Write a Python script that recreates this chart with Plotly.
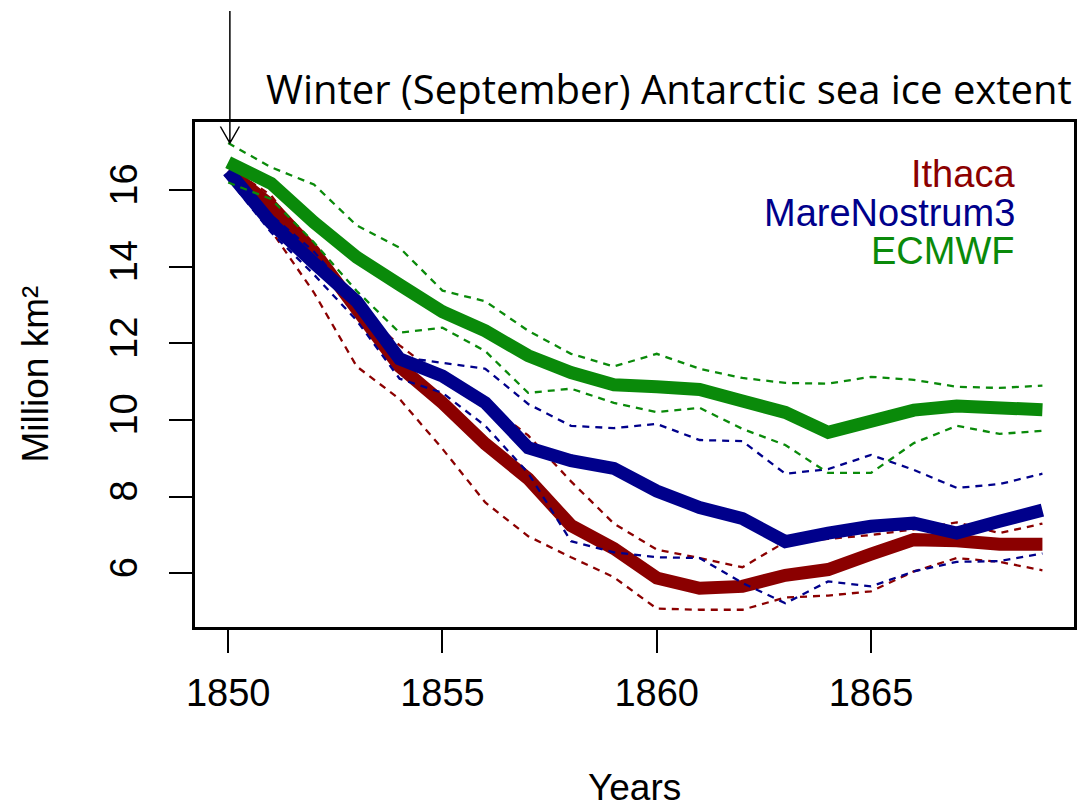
import plotly.graph_objects as go

# Winter (September) Antarctic sea ice extent, 1850-1869, million km^2
years = list(range(1850, 1870))

ithaca_mean = [16.5, 15.6, 14.4, 12.95, 11.4, 10.45, 9.38, 8.47, 7.25, 6.65,
               5.88, 5.61, 5.66, 5.95, 6.1, 6.5, 6.88, 6.85, 6.76, 6.76]
ithaca_upper = [16.6, 15.87, 14.35, 12.95, 11.95, 11.1, 10.45, 9.6, 8.4, 7.3,
                6.62, 6.4, 6.16, 6.82, 6.9, 7.0, 7.15, 7.33, 7.05, 7.3]
ithaca_lower = [16.4, 14.95, 13.33, 11.4, 10.55, 9.25, 7.85, 6.97, 6.42, 5.9,
                5.08, 5.05, 5.05, 5.37, 5.42, 5.53, 6.05, 6.4, 6.3, 6.08]

mn3_mean = [16.5, 15.15, 14.1, 13.1, 11.6, 11.15, 10.45, 9.28, 8.94, 8.74,
            8.15, 7.72, 7.43, 6.83, 7.05, 7.23, 7.31, 7.05, 7.36, 7.65]
mn3_upper = [16.5, 15.35, 14.4, 13.1, 11.65, 11.5, 11.34, 10.42, 9.85, 9.79,
             9.9, 9.48, 9.45, 8.6, 8.72, 9.09, 8.7, 8.23, 8.33, 8.6]
mn3_lower = [16.3, 14.9, 13.8, 12.6, 11.08, 10.71, 9.85, 8.62, 6.84, 6.55,
             6.42, 6.4, 5.75, 5.22, 5.79, 5.66, 6.05, 6.3, 6.32, 6.52]

ecmwf_mean = [16.73, 16.18, 15.16, 14.25, 13.53, 12.83, 12.33, 11.68, 11.24, 10.92,
              10.87, 10.8, 10.5, 10.2, 9.68, 9.97, 10.26, 10.37, 10.28, 10.27]
ecmwf_upper = [17.23, 16.6, 16.15, 15.08, 14.5, 13.38, 13.1, 12.33, 11.73, 11.4,
               11.73, 11.34, 11.1, 10.97, 10.95, 11.13, 11.05, 10.87, 10.84, 10.9]
ecmwf_lower = [16.2, 15.77, 14.64, 13.37, 12.28, 12.41, 11.8, 10.71, 10.82, 10.45,
               10.21, 10.32, 9.77, 9.35, 8.62, 8.62, 9.4, 9.85, 9.64, 9.72]

models = ["Ithaca", "MareNostrum3", "ECMWF"]
colors = ["#8b0000", "#00008b", "#0a8a0a"]
series = [
    (ithaca_mean, ithaca_upper, ithaca_lower),
    (mn3_mean, mn3_upper, mn3_lower),
    (ecmwf_mean, ecmwf_upper, ecmwf_lower),
]

fig = go.Figure()
for name, color, (mean, upper, lower) in zip(models, colors, series):
    fig.add_trace(go.Scatter(x=years, y=mean, mode="lines", name=name,
                             line=dict(color=color, width=13)))
    for band in (upper, lower):
        fig.add_trace(go.Scatter(x=years, y=band, mode="lines", name=name,
                                 line=dict(color=color, width=2.3, dash="7px,6px")))

font = "Liberation Sans, Arial, sans-serif"
axis_common = dict(
    showline=True, linecolor="black", linewidth=2.6, mirror=True,
    ticks="outside", ticklen=23, tickwidth=2, tickcolor="black",
    showgrid=False, zeroline=False,
    tickfont=dict(family=font, size=38, color="black"),
)

PLOT_L, PLOT_R, PLOT_T, PLOT_B = 195, 1077, 122, 627
plot_w = PLOT_R - PLOT_L
plot_h = PLOT_B - PLOT_T

fig.update_layout(
    width=1083, height=810,
    margin=dict(l=PLOT_L, r=1083 - PLOT_R, t=PLOT_T, b=810 - PLOT_B),
    paper_bgcolor="white", plot_bgcolor="white",
    showlegend=False,
    xaxis=dict(range=[1849.226, 1869.737], tickvals=[1850, 1855, 1860, 1865],
               ticklabelstandoff=8, **axis_common),
    yaxis=dict(range=[4.6, 17.78], tickvals=[6, 8, 10, 12, 14, 16],
               tickangle=-90, ticklabelstandoff=17, **axis_common),
)

# model labels, top right inside the frame
for i, (name, color) in enumerate(zip(models, colors)):
    fig.add_annotation(text=name, xref="paper", yref="paper",
                       x=(1020 - PLOT_L) / plot_w, y=1,
                       xanchor="right", yanchor="middle",
                       yshift=-(52 + 38.5 * i), showarrow=False,
                       font=dict(family=font, size=38, color=color))

# titles
fig.add_annotation(text="Winter (September) Antarctic sea ice extent",
                   xref="paper", yref="paper", x=(1077 - PLOT_L) / plot_w, y=1,
                   xanchor="right", yanchor="middle", yshift=34, showarrow=False,
                   font=dict(family="Open Sans, sans-serif", size=40, color="black"))
fig.add_annotation(text="Years", xref="paper", yref="paper", x=0.5, y=0,
                   xanchor="center", yanchor="middle", yshift=-160, showarrow=False,
                   font=dict(family=font, size=37, color="black"))
fig.add_annotation(text="Million km²", xref="paper", yref="paper", x=0, y=0.5,
                   xanchor="center", yanchor="middle", xshift=-160, textangle=-90,
                   showarrow=False, font=dict(family=font, size=37, color="black"))

# pointer arrow dropping onto the 1850 start of the curves
fig.add_shape(type="path", xref="paper", yref="paper",
              xsizemode="pixel", ysizemode="pixel",
              xanchor=(230 - PLOT_L) / plot_w, yanchor=(PLOT_B - 143) / plot_h,
              path="M0,0 L0,132 M-9.5,16.5 L0,0 L9.5,16.5",
              line=dict(color="black", width=1.5))

fig.write_html("out.html")
